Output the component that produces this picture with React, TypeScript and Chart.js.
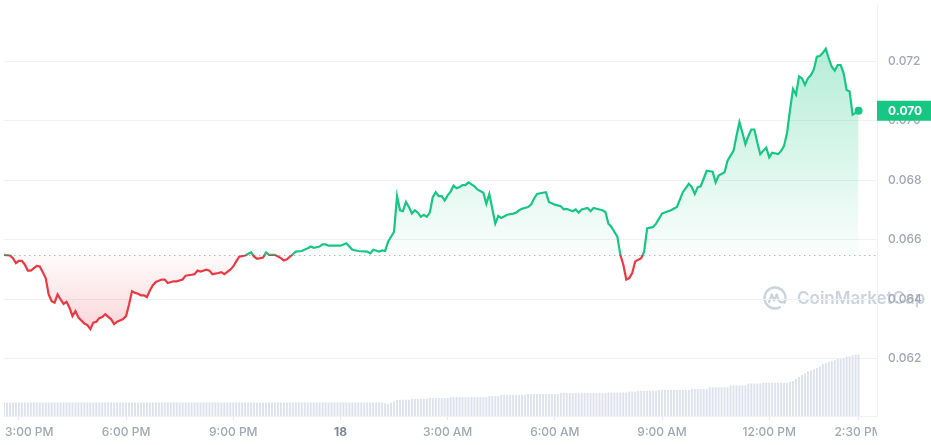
import React, { useEffect, useRef } from "react";
import { Chart, registerables } from "chart.js";

Chart.register(...registerables);

// 5-minute steps since 2:35 PM (step 0) -> price (USD)
const priceSeries: [number, number][] = [
  [0,0.06549],[2,0.06547],[3,0.06538],[4,0.06521],[5,0.06529],[6,0.06529],[7,0.06516],[8,0.06496],[9,0.06496],[11,0.06512],[12,0.06510],[13,0.06491],[14,0.06471],[15,0.06416],[16,0.06393],[17,0.06388],[18,0.06416],[19,0.06399],[20,0.06384],[21,0.06391],[22,0.06371],[23,0.06343],[24,0.06360],[25,0.06338],[27,0.06318],[28,0.06313],[29,0.06299],[30,0.06321],[31,0.06324],[32,0.06336],[33,0.06340],[34,0.06349],[36,0.06332],[37,0.06316],[38,0.06324],[40,0.06333],[41,0.06343],[42,0.06382],[43,0.06427],[44,0.06421],[45,0.06418],[46,0.06413],[47,0.06413],[48,0.06407],[49,0.06429],[50,0.06447],[51,0.06458],[53,0.06466],[54,0.06466],[55,0.06454],[57,0.06460],[58,0.06460],[60,0.06466],[61,0.06479],[63,0.06482],[64,0.06484],[65,0.06496],[66,0.06493],[68,0.06499],[69,0.06496],[70,0.06484],[72,0.06488],[73,0.06491],[74,0.06484],[76,0.06499],[77,0.06510],[78,0.06527],[79,0.06543],[81,0.06547],[83,0.06558],[84,0.06543],[85,0.06536],[87,0.06540],[88,0.06557],[89,0.06549],[91,0.06549],[93,0.06538],[94,0.06530],[95,0.06534],[97,0.06551],[98,0.06560],[100,0.06562],
  [102,0.06571],[103,0.06577],[104,0.06573],[106,0.06577],[107,0.06584],[108,0.06584],[109,0.06580],[111,0.06580],[113,0.06580],[115,0.06588],[116,0.06577],[117,0.06566],[119,0.06562],[122,0.06560],[123,0.06554],[124,0.06566],[126,0.06560],[127,0.06564],[128,0.06562],[129,0.06593],[131,0.06627],[132,0.06747],[133,0.06699],[134,0.06696],[135,0.06727],[136,0.06710],[137,0.06688],[138,0.06699],[139,0.06691],[140,0.06677],[141,0.06684],[142,0.06677],[143,0.06691],[144,0.06743],[145,0.06760],[146,0.06747],[147,0.06747],[148,0.06732],[149,0.06749],[150,0.06762],[151,0.06782],[152,0.06773],[153,0.06777],[154,0.06784],[155,0.06784],[156,0.06793],[158,0.06780],[159,0.06769],[161,0.06758],[162,0.06721],[163,0.06754],[164,0.06704],[165,0.06654],[166,0.06680],[167,0.06673],[169,0.06684],[171,0.06688],[172,0.06691],[173,0.06699],[174,0.06704],[176,0.06710],[177,0.06718],[178,0.06738],[179,0.06754],[181,0.06758],[182,0.06760],[183,0.06727],[185,0.06718],[187,0.06713],[188,0.06702],[189,0.06704],[191,0.06696],[192,0.06702],[193,0.06691],[194,0.06702],[196,0.06707],[197,0.06696],[198,0.06707],[199,0.06704],[201,0.06699],[202,0.06693],
  [203,0.06654],[204,0.06643],[206,0.06610],[207,0.06549],[208,0.06516],[209,0.06466],[210,0.06471],[211,0.06488],[212,0.06527],[214,0.06538],[215,0.06560],[216,0.06638],[218,0.06643],[219,0.06654],[221,0.06688],[223,0.06696],[224,0.06699],[226,0.06710],[228,0.06760],[230,0.06788],[231,0.06777],[232,0.06754],[233,0.06777],[234,0.06780],[236,0.06832],[238,0.06829],[239,0.06793],[240,0.06816],[242,0.06827],[243,0.06866],[245,0.06899],[246,0.06949],[247,0.06996],[248,0.06960],[249,0.06921],[250,0.06949],[251,0.06971],[252,0.06971],[253,0.06927],[254,0.06888],[255,0.06899],[256,0.06910],[257,0.06877],[258,0.06893],[260,0.06888],[261,0.06899],[262,0.06916],[263,0.06960],[264,0.07038],[265,0.07107],[266,0.07088],[267,0.07149],[268,0.07143],[269,0.07121],[270,0.07143],[271,0.07154],[272,0.07173],[273,0.07216],[274,0.07218],[275,0.07229],[276,0.07243],[277,0.07210],[278,0.07182],[279,0.07169],[280,0.07188],[281,0.07188],[282,0.07160],[283,0.07104],[284,0.07099],[285,0.07021],[286,0.07027],[287,0.07034],
];

// volume per 5-minute step (step index = array index)
const volumes: number[] = [
  133,133,133,133,133,133,133,133,133,133,133,133,133,133,133,133,
  133,133,133,133,133,133,133,133,133,133,133,133,133,133,133,133,
  133,133,133,133,133,133,133,133,133,133,133,133,133,133,133,133,
  133,133,133,133,133,133,133,133,133,133,133,133,133,133,133,133,
  133,133,133,133,133,133,133,133,133,133,133,133,133,133,133,133,
  133,133,133,133,133,133,133,133,133,133,133,133,133,133,133,133,
  133,133,133,133,133,133,133,133,133,133,133,133,133,133,133,133,
  133,133,133,133,133,133,133,133,133,133,133,133,133,133,133,133,
  125,120,130,143,157,160,160,160,160,170,170,170,170,170,170,
  177,177,177,177,177,177,177,
  187,187,187,187,187,187,187,187,187,187,187,187,187,
  197,197,197,197,
  210,210,210,210,210,210,210,210,210,
  220,220,220,220,220,220,220,220,220,220,220,
  228,228,228,228,228,228,228,228,228,228,228,228,228,228,228,228,
  233,233,233,233,233,233,233,
  243,243,243,
  250,250,250,250,250,250,250,
  260,260,260,260,260,260,260,260,260,260,260,
  270,270,270,270,270,270,
  287,287,287,287,287,287,287,
  305,305,305,305,305,305,
  325,325,325,325,325,
  333,333,333,333,333,333,333,333,333,
  340,350,370,390,410,427,447,457,470,483,497,520,530,543,553,563,573,573,583,597,600,610,617,617,
];

const tickSteps = [5, 41, 77, 113, 149, 185, 221, 257, 287];
const tickLabels = ["3:00 PM", "6:00 PM", "9:00 PM", "18", "3:00 AM", "6:00 AM", "9:00 AM", "12:00 PM", "2:30 PM"];
const dayTickLabel = "18";
const yTickValues = [0.062, 0.064, 0.066, 0.068, 0.07, 0.072];

const openPrice = priceSeries[0][1];
const lastPrice = priceSeries[priceSeries.length - 1][1];

const X_MIN = 0;
const X_MAX = 293.2;
const Y_MIN = 0.060067;
const Y_MAX = 0.073933;
const VOL_AXIS_MAX = 4160;

const GREEN = "#16c784";
const RED = "#ea3943";
const GRID = "#eff1f4";
const LABEL = "#a1a7b3";
const FONT = "Inter, 'Noto Sans', sans-serif";

function strokeGradient(chart: any) {
  const { ctx, chartArea, scales } = chart;
  if (!chartArea || !scales.y) return GREEN;
  const base = scales.y.getPixelForValue(openPrice);
  const g = ctx.createLinearGradient(0, chartArea.top, 0, chartArea.bottom);
  const f = Math.min(1, Math.max(0, (base - chartArea.top) / (chartArea.bottom - chartArea.top)));
  g.addColorStop(0, GREEN);
  g.addColorStop(f, GREEN);
  g.addColorStop(f, RED);
  g.addColorStop(1, RED);
  return g;
}

function fillGradient(chart: any) {
  const { ctx, chartArea, scales } = chart;
  if (!chartArea || !scales.y) return "rgba(0,0,0,0)";
  const y = scales.y;
  const top = y.getPixelForValue(0.0725);
  const bot = y.getPixelForValue(0.063);
  const base = y.getPixelForValue(openPrice);
  const f = Math.min(1, Math.max(0, (base - top) / (bot - top)));
  const g = ctx.createLinearGradient(0, top, 0, bot);
  g.addColorStop(0, "rgba(22,199,132,0.32)");
  g.addColorStop(f, "rgba(22,199,132,0.02)");
  g.addColorStop(f, "rgba(234,57,67,0.02)");
  g.addColorStop(1, "rgba(234,57,67,0.2)");
  return g;
}

const watermarkPlugin = {
  id: "watermark",
  beforeDraw(chart: any) {
    const { ctx, chartArea } = chart;
    const cx = chartArea.right - 102;
    const cy = chartArea.bottom - 118;
    ctx.save();
    ctx.strokeStyle = "#cdd3de";
    ctx.fillStyle = "#cdd3de";
    ctx.lineWidth = 2.4;
    ctx.lineCap = "round";
    ctx.lineJoin = "round";
    ctx.beginPath();
    ctx.arc(cx, cy, 10.5, 0.35 * Math.PI, 2.15 * Math.PI);
    ctx.stroke();
    ctx.beginPath();
    ctx.moveTo(cx - 6, cy + 4);
    ctx.lineTo(cx - 3.2, cy - 3.5);
    ctx.lineTo(cx - 0.8, cy + 2.5);
    ctx.lineTo(cx + 1.8, cy - 3.5);
    ctx.lineTo(cx + 3.6, cy + 2);
    ctx.quadraticCurveTo(cx + 5, cy + 5, cx + 8, cy + 4);
    ctx.stroke();
    ctx.font = `600 17px ${FONT}`;
    ctx.textBaseline = "middle";
    ctx.textAlign = "left";
    ctx.fillText("CoinMarketCap", cx + 22, cy + 1);
    ctx.restore();
  },
};

const baselinePlugin = {
  id: "baseline",
  beforeDatasetsDraw(chart: any) {
    const { ctx, chartArea, scales } = chart;
    const y = Math.round(scales.y.getPixelForValue(openPrice)) + 0.5;
    ctx.save();
    ctx.strokeStyle = "#b4b9c4";
    ctx.lineWidth = 1;
    ctx.setLineDash([1.5, 3.5]);
    ctx.beginPath();
    ctx.moveTo(chartArea.left, y);
    ctx.lineTo(chartArea.right, y);
    ctx.stroke();
    ctx.restore();
  },
};

const overlayPlugin = {
  id: "overlay",
  afterDraw(chart: any) {
    const { ctx, chartArea, scales, width } = chart;
    ctx.save();
    ctx.beginPath();
    ctx.rect(0, chartArea.bottom, chartArea.right, 40);
    ctx.clip();
    ctx.textBaseline = "middle";
    ctx.textAlign = "left";
    tickSteps.forEach((s, k) => {
      const label = tickLabels[k];
      const bold = label === dayTickLabel;
      ctx.font = `${bold ? 700 : 500} 12px ${FONT}`;
      ctx.fillStyle = bold ? "#7d8595" : LABEL;
      const w = ctx.measureText(label).width;
      let x = scales.x.getPixelForValue(s) - w / 2;
      if (x < chartArea.left + 1) x = chartArea.left + 1;
      ctx.fillText(label, x, chartArea.bottom + 16);
    });
    ctx.restore();
    const py = scales.y.getPixelForValue(lastPrice);
    ctx.save();
    ctx.fillStyle = GREEN;
    ctx.fillRect(chartArea.right, py - 10, width - chartArea.right, 20);
    ctx.fillStyle = "#ffffff";
    ctx.font = `700 12px ${FONT}`;
    ctx.textBaseline = "middle";
    ctx.textAlign = "left";
    ctx.fillText(lastPrice.toFixed(3), chartArea.right + 11, py + 0.5);
    ctx.restore();
  },
};

export default function App() {
  const ref = useRef<HTMLCanvasElement | null>(null);
  useEffect(() => {
    if (!ref.current) return;
    const lastIndex = priceSeries.length - 1;
    const chart = new Chart(ref.current, {
      data: {
        datasets: [
          {
            type: "line",
            data: priceSeries.map(([x, y]) => ({ x, y })),
            yAxisID: "y",
            xAxisID: "x",
            borderWidth: 2.2,
            borderColor: (c: any) => strokeGradient(c.chart),
            backgroundColor: (c: any) => fillGradient(c.chart),
            fill: { value: openPrice } as any,
            tension: 0,
            pointRadius: (c: any) => (c.dataIndex === lastIndex ? 4 : 0),
            pointBackgroundColor: GREEN,
            pointBorderWidth: 0,
            order: 1,
          } as any,
          {
            type: "bar",
            data: volumes.map((v, i) => ({ x: i, y: v })),
            yAxisID: "yv",
            xAxisID: "x",
            backgroundColor: "#dde2ec",
            barThickness: 1.3,
            order: 2,
          } as any,
        ],
      },
      options: {
        animation: false,
        responsive: false,
        events: [],
        layout: { padding: 0 },
        plugins: { legend: { display: false }, tooltip: { enabled: false } },
        scales: {
          x: {
            type: "linear",
            offset: false,
            min: X_MIN,
            max: X_MAX,
            afterBuildTicks: (axis: any) => {
              axis.ticks = tickSteps.map((v) => ({ value: v }));
            },
            afterFit: (s: any) => {
              s.height = 29;
              s.paddingLeft = 0;
              s.paddingRight = 0;
            },
            ticks: { display: false },
            grid: { display: true, offset: false, drawOnChartArea: false, drawTicks: true, tickLength: 4, color: "#e3e6eb" },
            border: { display: true, color: GRID },
          },
          y: {
            type: "linear",
            position: "right",
            min: Y_MIN,
            max: Y_MAX,
            afterBuildTicks: (axis: any) => {
              axis.ticks = yTickValues.map((v) => ({ value: v }));
            },
            afterFit: (s: any) => {
              s.width = 54;
              s.paddingTop = 0;
              s.paddingBottom = 0;
            },
            ticks: {
              padding: 11,
              color: LABEL,
              font: { family: FONT, size: 12, weight: 500 } as any,
              callback: (v: any) => Number(v).toFixed(3),
            },
            grid: { color: GRID, drawTicks: false },
            border: { display: true, color: GRID },
          },
          yv: {
            type: "linear",
            display: false,
            min: 0,
            max: VOL_AXIS_MAX,
          },
        },
      } as any,
      plugins: [watermarkPlugin, baselinePlugin, overlayPlugin],
    });
    return () => chart.destroy();
  }, []);

  return (
    <div style={{ position: "fixed", left: 0, top: 0, width: 931, height: 445, background: "#fff" }}>
      <canvas ref={ref} width={931} height={445} style={{ display: "block" }} />
    </div>
  );
}
